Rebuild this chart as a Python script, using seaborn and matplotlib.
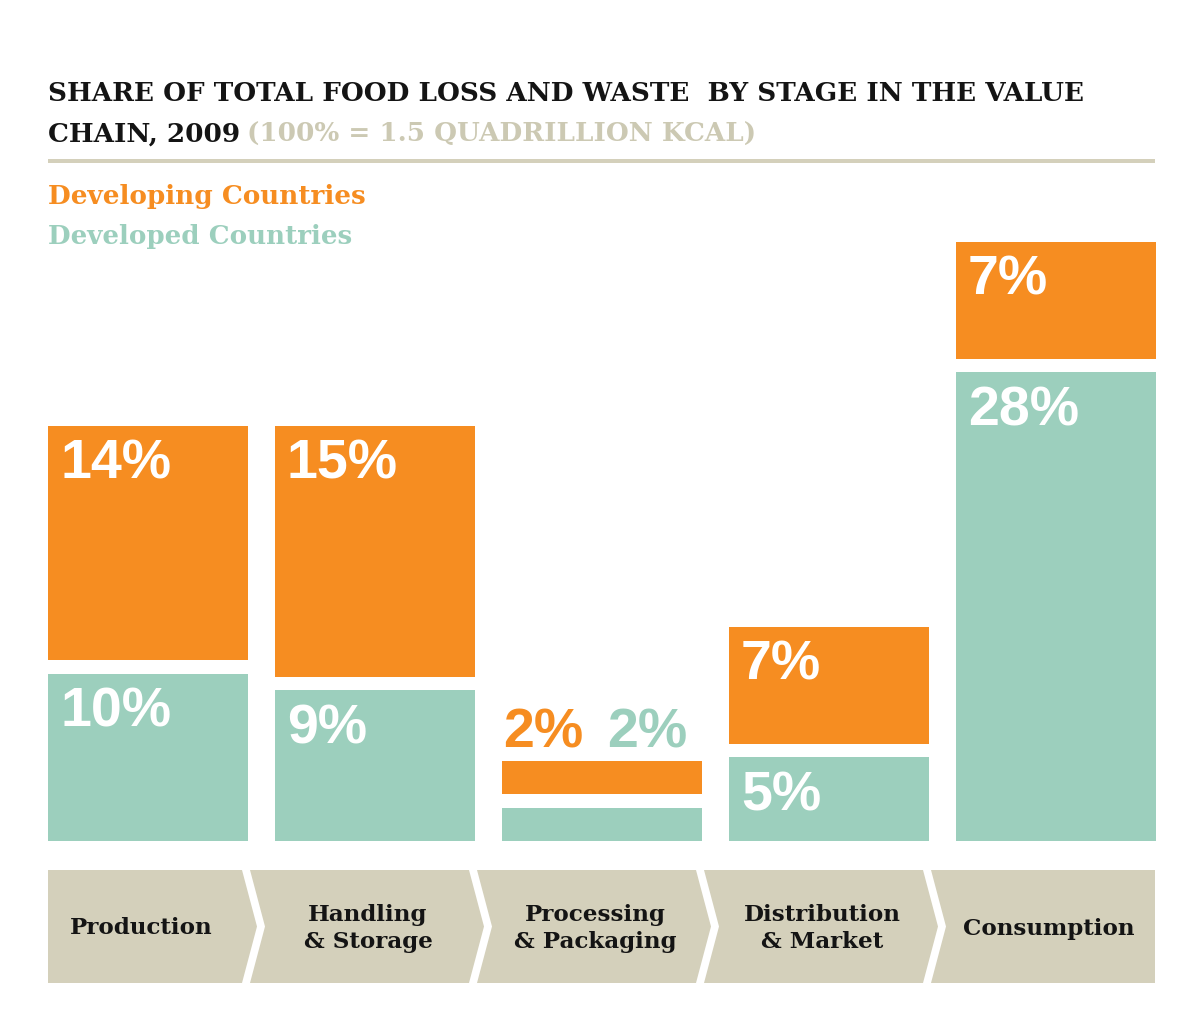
import matplotlib
matplotlib.use("Agg")
import matplotlib.pyplot as plt
import seaborn as sns
import pandas as pd
from matplotlib.patches import Polygon

# ---- data ----
stages = ["Production", "Handling\n& Storage", "Processing\n& Packaging",
          "Distribution\n& Market", "Consumption"]
developed = [10, 9, 2, 5, 28]     # teal, bottom segment
developing = [14, 15, 2, 7, 7]    # orange, top segment
series_names = ["Developing Countries", "Developed Countries"]
title_line1 = "SHARE OF TOTAL FOOD LOSS AND WASTE  BY STAGE IN THE VALUE"
title_line2 = "CHAIN, 2009"
subtitle = "(100% = 1.5 QUADRILLION KCAL)"

ORANGE = "#F68D21"
TEAL = "#9CCFBD"
TAN = "#D4D0BB"
GREY = "#CCC9B3"
INK = "#141414"
GAP = 0.78  # white gap between stacked segments (in % units)
W = 200 / 227

sns.set_theme(style="white")
plt.rcParams['font.family'] = ['DejaVu Sans']

fig = plt.figure(figsize=(12, 10.27), dpi=100)
fig.patch.set_facecolor("white")
ov = fig.add_axes([0, 0, 1, 1], zorder=0)
ov.set_xlim(0, 1200)
ov.set_ylim(1027, 0)
ov.axis('off')

ax = fig.add_axes([34.5 / 1200, 186 / 1027, 1135 / 1200, 670 / 1027], zorder=1)
ax.patch.set_alpha(0)

df = pd.DataFrame({"stage": stages, "developed": developed, "developing": developing})
df["base"] = df["developed"] + GAP

sns.barplot(data=df, x="stage", y="developed", color=TEAL, saturation=1,
            width=W, linewidth=0, errorbar=None, ax=ax)
sns.barplot(data=df, x="stage", y="developing", color=ORANGE, saturation=1,
            width=W, linewidth=0, errorbar=None, bottom=df["base"].values, ax=ax)
ax.set_xlim(-0.5, len(stages) - 0.5)
ax.set_ylim(0, 40)
ax.axis('off')

PCT = dict(color="white", fontsize=40, fontweight="bold", family="Liberation Sans")
px = 0.72  # pixels -> points
for i, (d, v) in enumerate(zip(developed, developing)):
    left = i - W / 2
    top_o = d + GAP + v
    if v < 3 and d < 3:
        ax.annotate(f"{v}%", (left, top_o), xytext=(1 * px, 13 * px), textcoords="offset points",
                    ha="left", va="baseline", **{**PCT, "color": ORANGE})
        ax.annotate(f"{d}%", (left, top_o), xytext=(105 * px, 13 * px), textcoords="offset points",
                    ha="left", va="baseline", **{**PCT, "color": TEAL})
    else:
        ax.annotate(f"{d}%", (left, d), xytext=(12 * px, -13 * px), textcoords="offset points",
                    ha="left", va="top", **PCT)
        ax.annotate(f"{v}%", (left, top_o), xytext=(12 * px, -13 * px), textcoords="offset points",
                    ha="left", va="top", **PCT)

renderer = fig.canvas.get_renderer()
SERIF = dict(family="DejaVu Serif", fontweight="bold")


def fit(x, y, s, width_px, color, base=20, **kw):
    t = ov.text(x, y, s, fontsize=base, color=color, ha="left", va="baseline", **SERIF, **kw)
    w = t.get_window_extent(renderer).width
    t.set_fontsize(base * width_px / w)
    return t


t1 = fit(48, 101, title_line1, 1035, INK)
fs = t1.get_fontsize()
t2 = ov.text(48, 142, title_line2, fontsize=fs, color=INK, ha="left", va="baseline", **SERIF)
e2 = t2.get_window_extent(renderer)
ov.text(e2.x1 + 7, 142, subtitle, fontsize=fs, color=GREY, ha="left", va="baseline", **SERIF)

ov.plot([48, 1155], [161, 161], lw=4 * px, color=TAN, solid_capstyle="butt")

fit(48, 204, series_names[0], 318, ORANGE)
fit(48, 244, series_names[1], 305, TEAL)

# chevron bands below the bars
centers = [ax.transData.transform((i, 0))[0] for i in range(len(stages))]
ytop, ybot = 870, 983
ymid = (ytop + ybot) / 2
depth, gap = 15, 8
n = len(stages)
for i in range(n):
    L = 48 if i == 0 else centers[i - 1] + 94 + gap
    R = 1155 if i == n - 1 else centers[i] + 94
    pts = [(L, ytop), (R, ytop)]
    if i < n - 1:
        pts.append((R + depth, ymid))
    pts += [(R, ybot), (L, ybot)]
    if i > 0:
        pts.append((L + depth, ymid))
    ov.add_patch(Polygon(pts, closed=True, facecolor=TAN, edgecolor="none"))

lab = fit(0, -100, "Production", 143, INK)
lfs = lab.get_fontsize()
lab.remove()
for i, s in enumerate(stages):
    ov.text(centers[i] - 7, ymid + 2, s, fontsize=lfs, color=INK, ha="center", va="center",
            multialignment="center", linespacing=1.35, **SERIF)

fig.savefig("out.png", dpi=100, facecolor="white")
